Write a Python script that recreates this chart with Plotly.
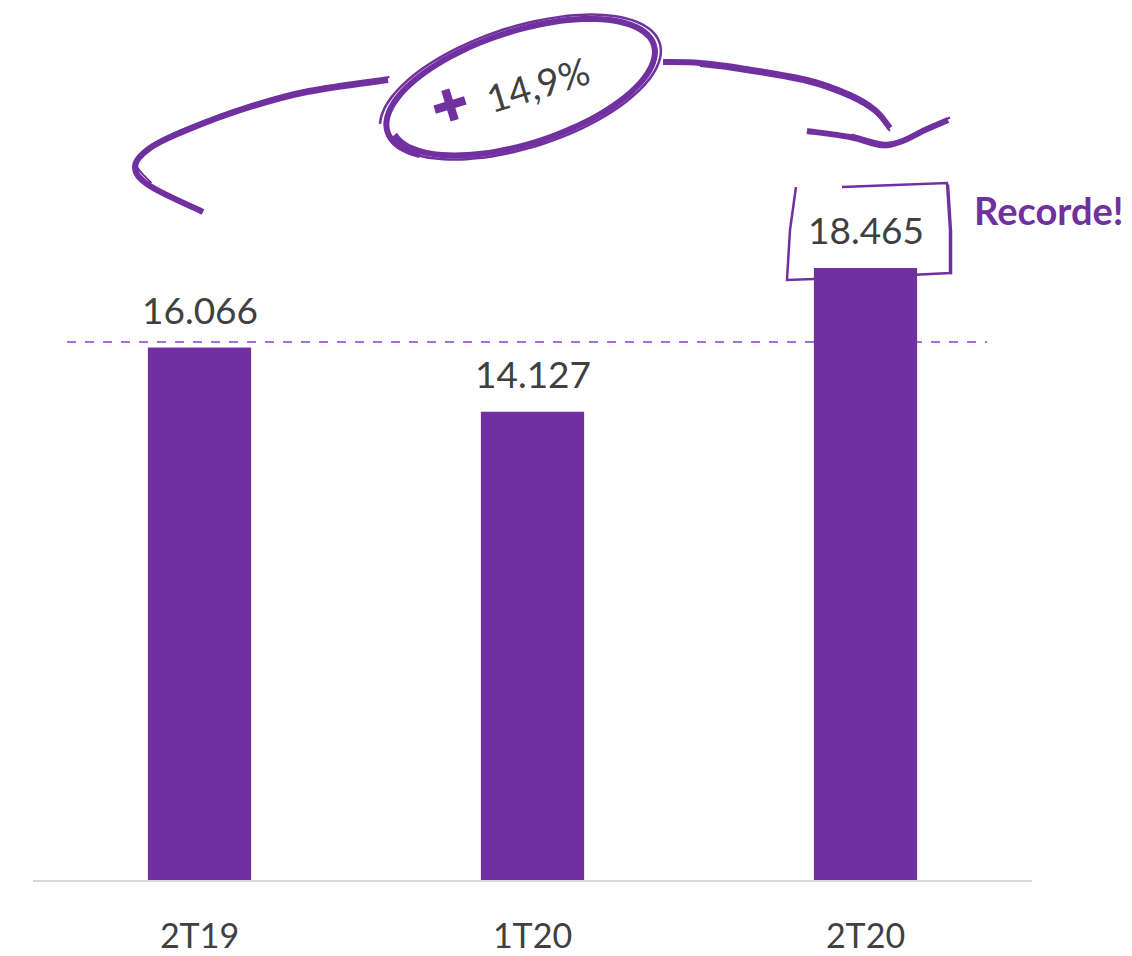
import plotly.graph_objects as go
import numpy as np

categories = ["2T19", "1T20", "2T20"]
values = [16066, 14127, 18465]
value_labels = ["16.066", "14.127", "18.465"]
growth_label = "14,9%"
callout_label = "Recorde!"

PURPLE = "#7030A0"
DASH = "#8E3CCB"
GREY = "#404040"
FONT = "Lato"

W, H = 1132, 956
L, R, T, B = 33, 100, 0, 76
PW, PH = W - L - R, H - T - B


def px(x):
    return (x - L) / PW


def py(y):
    return (H - B - y) / PH


def smooth_path(pts):
    P = [(px(x), py(y)) for x, y in pts]
    d = f"M {P[0][0]:.5f},{P[0][1]:.5f}"
    n = len(P)
    for i in range(n - 1):
        p0 = P[i - 1] if i > 0 else P[i]
        p1 = P[i]
        p2 = P[i + 1]
        p3 = P[i + 2] if i + 2 < n else P[i + 1]
        c1 = (p1[0] + (p2[0] - p0[0]) / 6, p1[1] + (p2[1] - p0[1]) / 6)
        c2 = (p2[0] - (p3[0] - p1[0]) / 6, p2[1] - (p3[1] - p1[1]) / 6)
        d += f" C {c1[0]:.5f},{c1[1]:.5f} {c2[0]:.5f},{c2[1]:.5f} {p2[0]:.5f},{p2[1]:.5f}"
    return d


def poly_path(pts):
    P = [(px(x), py(y)) for x, y in pts]
    return "M " + " L ".join(f"{a:.5f},{b:.5f}" for a, b in P)


fig = go.Figure()
fig.add_trace(go.Bar(
    x=categories, y=values, marker=dict(color=PURPLE, line=dict(width=0)),
    hoverinfo="skip", showlegend=False,
))

shapes = []


def stroke(path, width, color=PURPLE, layer="above"):
    shapes.append(dict(type="path", path=path, xref="paper", yref="paper",
                       line=dict(color=color, width=width), layer=layer))


# dashed reference line
shapes.append(dict(type="line", xref="paper", yref="paper",
                   x0=px(67), x1=px(987), y0=py(342), y1=py(342),
                   line=dict(color=DASH, width=1.6, dash="dash"), layer="below"))

# left curved arrow
left_pts = [(388, 80), (307, 92), (247, 108), (187, 130), (150, 148),
            (135, 167), (150, 186), (203, 212)]
stroke(smooth_path(left_pts), 6)
stroke(smooth_path([(x + 1.5, y - 3) for x, y in left_pts[:-1]]), 2)

# sketchy ellipse around growth
cx, cy, a, b, th = 522, 88, 142, 58, np.deg2rad(-18)
for t0, t1, da, db, w in [(2.55, 2.55 + 2 * np.pi + 0.5, 0, 0, 6),
                          (3.3, 3.3 + 2 * np.pi - 0.6, 6, 4, 2.5)]:
    ts = np.linspace(t0, t1, 60)
    pts = []
    for t in ts:
        f = (t - t0) / (t1 - t0)
        aa = a + da - 6 * f
        bb = b + db - 3 * f
        ex, ey = aa * np.cos(t), bb * np.sin(t)
        pts.append((cx + ex * np.cos(th) - ey * np.sin(th),
                    cy + ex * np.sin(th) + ey * np.cos(th)))
    stroke(smooth_path(pts), w)

# plus sign (rotated)
pc_x, pc_y, arm, ang = 450, 105, 16, np.deg2rad(-17)
for dx, dy in [(1, 0), (0, 1)]:
    ux = dx * np.cos(ang) - dy * np.sin(ang)
    uy = dx * np.sin(ang) + dy * np.cos(ang)
    stroke(poly_path([(pc_x - arm * ux, pc_y - arm * uy), (pc_x + arm * ux, pc_y + arm * uy)]), 8.5)

# right curved arrow
right_pts = [(663, 62), (700, 63), (740, 68), (807, 80), (850, 95), (875, 110), (890, 128)]
stroke(smooth_path(right_pts), 6)
stroke(smooth_path([(x, y + 3) for x, y in right_pts[1:]]), 2)
head = [(807, 131), (850, 137), (880, 145), (900, 142), (925, 130), (948, 120)]
stroke(smooth_path(head), 6)
stroke(smooth_path([(x + 2, y - 2.5) for x, y in head[1:]]), 2)

# hand-drawn box around record value
box = [(842, 187), (947, 183), (950, 230), (950, 273), (870, 277), (787, 280), (790, 230), (796, 187)]
stroke(poly_path(box), 2.5, layer="below")
stroke(poly_path([(x + 1.5, y + 1.5) for x, y in box[1:4]]), 1.5, layer="below")

annotations = []
for c, v, lab in zip(categories, values, value_labels):
    annotations.append(dict(x=c, y=v, xref="x", yref="y", text=lab, showarrow=False,
                            yanchor="middle", yshift=38,
                            font=dict(family=FONT, size=37, color=GREY)))

annotations.append(dict(x=px(537), y=py(84), xref="paper", yref="paper",
                        text=growth_label,
                        showarrow=False, textangle=-17, xanchor="center", yanchor="middle",
                        font=dict(family=FONT, size=38, color=GREY)))

annotations.append(dict(x=px(1048), y=py(210), xref="paper", yref="paper",
                        text=f"<b>{callout_label}</b>", showarrow=False,
                        xanchor="center", yanchor="middle",
                        font=dict(family=FONT, size=38, color=PURPLE)))

fig.update_layout(
    width=W, height=H,
    margin=dict(l=L, r=R, t=T, b=B, pad=0, autoexpand=False),
    paper_bgcolor="white", plot_bgcolor="white",
    bargap=0.69,
    shapes=shapes, annotations=annotations,
    xaxis=dict(showline=True, linecolor="#D9D9D9", linewidth=2, showgrid=False,
               ticks="", ticklabelstandoff=25, automargin=False,
               tickfont=dict(family=FONT, size=34, color=GREY), fixedrange=True),
    yaxis=dict(range=[0, 26550], visible=False, showgrid=False, fixedrange=True,
               automargin=False),
    font=dict(family=FONT),
)

fig.write_html("out.html", config={"displayModeBar": False},
               post_script="document.body.style.margin='0';document.body.style.overflow='hidden';")
